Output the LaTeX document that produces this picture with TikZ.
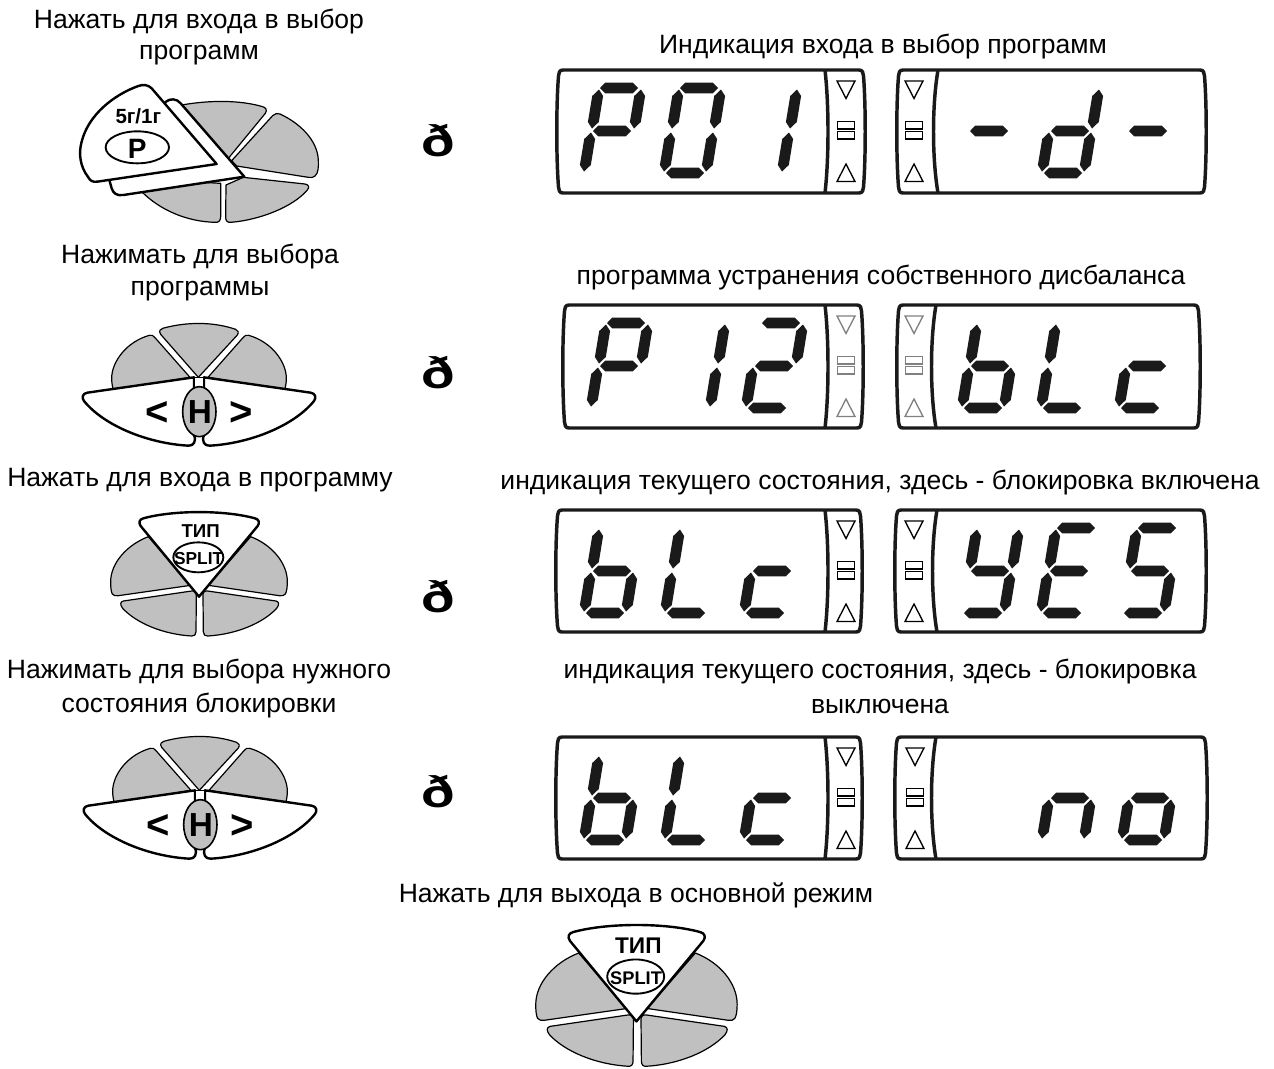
\documentclass[tikz,border=0pt]{standalone}
\usepackage{fontspec}
\usepackage{graphicx}
\setmainfont{Liberation Sans}
\definecolor{keygray}{HTML}{C0C0C0}
\definecolor{lcdblack}{HTML}{1A1A1A}
\newcommand{\fsz}[1]{\fontsize{#1}{#1}\selectfont}
\tikzset{
  caption/.style={inner sep=0pt,anchor=center,font=\fsz{19.9}},
  arrowglyph/.style={inner sep=0pt,anchor=center,font=\fsz{33}\bfseries},
  keygrey/.style={fill=keygray,draw=black,line width=0.9pt,line join=round},
  keywhite/.style={fill=white,draw=black,line width=1.8pt,line join=round},
  frameline/.style={draw=lcdblack,line width=2.6pt,line join=round},
}
\newcommand{\glyphd}{\scalebox{1.25}[1]{ð}}
% seven-segment parts, relative to the centre of the middle bar
\newcommand{\seghz}[2]{\fill[lcdblack,shift={(#1,#2)}] (-19,0)--(-13.8,-5.3)--(13.8,-5.3)--(19,0)--(13.8,5.3)--(-13.8,5.3)--cycle;}
\newcommand{\segvt}[2]{\fill[lcdblack,shift={(#1,#2)}] (3.5,-19.5)--(7.6,-13)--(3.3,13)--(-3.5,19.5)--(-7.6,13)--(-3.3,-13)--cycle;}
\newcommand{\sgA}{\seghz{7}{-43}}
\newcommand{\sgG}{\seghz{0}{0}}
\newcommand{\sgD}{\seghz{-7}{42}}
\newcommand{\sgF}{\segvt{-16.5}{-22}}
\newcommand{\sgB}{\segvt{25.5}{-22}}
\newcommand{\sgE}{\segvt{-24.5}{21}}
\newcommand{\sgC}{\segvt{17.5}{21}}
\newcommand{\dig}[3]{\begin{scope}[shift={(#1,#2)}]#3\end{scope}}
\newcommand{\lcdframe}[4]{%
  \draw[frameline] ({#1+6},#3) -- ({#2-6},#3)
   .. controls ({#2-2},#3) and ({#2-2},{#3+3}) .. ({#2-1.5},{#3+6})
   .. controls ({#2+.8},{#3+35}) and ({#2+.8},{#4-35}) .. ({#2-1.5},{#4-6})
   .. controls ({#2-2},{#4-3}) and ({#2-2},#4) .. ({#2-6},#4)
   -- ({#1+6},#4)
   .. controls ({#1+2},#4) and ({#1+2},{#4-3}) .. ({#1+1.5},{#4-6})
   .. controls ({#1-.8},{#4-35}) and ({#1-.8},{#3+35}) .. ({#1+1.5},{#3+6})
   .. controls ({#1+2},{#3+3}) and ({#1+2},#3) .. cycle;}
\newcommand{\lcddiv}[4]{\draw[frameline] (#1,#2) .. controls ({#1+#4},{#2+35}) and ({#1+#4},{#3-35}) .. (#1,#3);}
\newcommand{\lcdicons}[3]{%
  \begin{scope}[shift={(#1,#2)},draw=#3,line width=1pt,line join=miter]
    \draw (-9,-50)--(9,-50)--(0,-32.5)--cycle;
    \draw[line width=.8pt] (-8.5,-9.5) rectangle (8.5,-2);
    \draw[line width=.8pt] (-8.5,0.5) rectangle (8.5,8);
    \draw (-9,50.5)--(9,50.5)--(0,33)--cycle;
  \end{scope}}
% keypads drawn in 3x zoom units
\newcommand{\keypadH}[3]{%
 \begin{scope}[shift={(#1,#2)},scale=1/3]
  \draw[keygrey] (415,232)--(302,103) .. controls (296,93) and (300,87) .. (308,85) .. controls (380,65) and (460,65) .. (527,88) .. controls (535,92) and (537,97) .. (532,105)--cycle;
  \draw[keygrey] (390,232)--(285,113) .. controls (280,106) and (275,104) .. (268,106) .. controls (200,125) and (155,185) .. (155,235) .. controls (155,248) and (157,258) .. (160,270)--cycle;
  \draw[keygrey] (444,232)--(549,113) .. controls (554,106) and (559,104) .. (566,106) .. controls (634,125) and (679,185) .. (679,235) .. controls (679,248) and (677,258) .. (674,270)--cycle;
  \draw[keywhite] (402,232)--(82,278) .. controls (68,280) and (64,293) .. (72,303) .. controls (130,375) and (260,430) .. (385,437) .. controls (400,438) and (410,425) .. (402,405)--cycle;
  \draw[keywhite] (432,232)--(752,278) .. controls (766,280) and (770,293) .. (762,303) .. controls (704,375) and (574,430) .. (449,437) .. controls (434,438) and (424,425) .. (432,405)--cycle;
  \draw[keywhite,line width=1pt] (402,232) rectangle (432,270);
  \draw[fill=keygray,draw=black,line width=1.2pt] (418,335) ellipse [x radius=50,y radius=75];
  \node[inner sep=0pt,font=\fsz{25}\bfseries] (#3h) at (420,335) {H};
  \node[inner sep=0pt,font=\fsz{30}\bfseries] (#3l) at (292,340) {<};
  \node[inner sep=0pt,font=\fsz{30}\bfseries] (#3r) at (545,340) {>};
 \end{scope}}
\newcommand{\keypadS}[6]{% x y scale fontTIP fontSPLIT name
 \begin{scope}[shift={(#1,#2)},scale=#3/3]
  \draw[keygrey] (272,256)--(145,110) .. controls (80,135) and (32,190) .. (32,245) .. controls (32,262) and (33,275) .. (37,282) .. controls (40,287) and (47,288) .. (55,287)--cycle;
  \draw[keygrey] (325,256)--(452,110) .. controls (517,135) and (562,190) .. (562,245) .. controls (562,262) and (560,275) .. (556,282) .. controls (553,287) and (546,288) .. (538,287)--cycle;
  \draw[keygrey] (70,303)--(275,273) .. controls (285,272) and (290,277) .. (289,287)--(288,395) .. controls (288,404) and (283,409) .. (275,408) .. controls (190,403) and (110,370) .. (68,325) .. controls (60,315) and (60,305) .. (70,303)--cycle;
  \draw[keygrey] (528,303)--(323,273) .. controls (313,272) and (308,277) .. (309,287)--(310,395) .. controls (310,404) and (315,409) .. (323,408) .. controls (408,403) and (488,370) .. (530,325) .. controls (538,315) and (538,305) .. (528,303)--cycle;
  \draw[keywhite] (297,290)--(122,78) .. controls (115,68) and (118,58) .. (130,55) .. controls (220,30) and (375,30) .. (465,55) .. controls (477,58) and (480,68) .. (473,78)--cycle;
  \draw[fill=white,draw=black,line width=1.4pt] (295,172) ellipse [x radius=75,y radius=45];
  \node[inner sep=0pt,font=\fsz{#4}\bfseries] (#6t) at (302,92) {ТИП};
  \node[inner sep=0pt,font=\fsz{#5}\bfseries] (#6s) at (296,175) {SPLIT};
 \end{scope}}
\begin{document}
\begin{tikzpicture}[x=0.75pt,y=-0.75pt]
\path[use as bounding box] (0,0) rectangle (1274,1068);

% captions
\node[caption] (t1a) at (199,22) {Нажать для входа в выбор};
\node[caption] (t1b) at (199,55) {программ};
\node[caption] (t1c) at (883,47) {Индикация входа в выбор программ};
\node[caption] (t2a) at (200,257) {Нажимать для выбора};
\node[caption] (t2b) at (200,291) {программы};
\node[caption] (t2c) at (881,278) {программа устранения собственного дисбаланса};
\node[caption] (t3a) at (200,480) {Нажать для входа в программу};
\node[caption] (t3c) at (880,483) {индикация текущего состояния, здесь - блокировка включена};
\node[caption] (t4a) at (199,672) {Нажимать для выбора нужного};
\node[caption] (t4b) at (199,706) {состояния блокировки};
\node[caption] (t4c) at (880,672) {индикация текущего состояния, здесь - блокировка};
\node[caption] (t4d) at (880,706) {выключена};
\node[caption] (t5a) at (636,895) {Нажать для выхода в основной режим};

% arrows glyph
\node[arrowglyph] (g1) at (438,141) {\glyphd};
\node[arrowglyph] (g2) at (438,373) {\glyphd};
\node[arrowglyph] (g3) at (438,597) {\glyphd};
\node[arrowglyph] (g4) at (438,792) {\glyphd};

% P keypad
\begin{scope}[shift={(60,70)},scale=1/3]
  \draw[keygrey] (505,265)--(616,130) .. controls (622,120) and (618,113) .. (608,110) .. controls (540,90) and (450,90) .. (365,105)--(300,200)--cycle;
  \draw[keygrey] (515,272)--(638,137) .. controls (645,130) and (652,129) .. (660,132) .. controls (720,160) and (772,210) .. (775,270) .. controls (776,290) and (775,310) .. (765,318) .. controls (760,323) and (755,323) .. (745,322)--(530,288)--cycle;
  \draw[keygrey] (498,345)--(550,322)--(735,342) .. controls (747,344) and (749,352) .. (742,360) .. controls (700,410) and (600,450) .. (512,457) .. controls (502,458) and (497,452) .. (497,442)--cycle;
  \draw[keygrey] (482,340)--(482,440) .. controls (482,452) and (476,458) .. (466,457) .. controls (380,455) and (300,420) .. (245,365)--(300,330)--cycle;
  \draw[keywhite] (318,95) .. controls (330,85) and (350,85) .. (362,100)--(553,320)--(190,375) .. controls (170,378) and (160,370) .. (155,355)--(148,330)--cycle;
  \draw[keywhite] (235,48) .. controls (250,42) and (265,45) .. (275,55)--(470,282)--(112,335) .. controls (98,337) and (90,332) .. (85,322) .. controls (60,290) and (55,250) .. (65,215) .. controls (85,135) and (160,75) .. (235,48)--cycle;
  \draw[fill=white,draw=black,line width=1.4pt] (232,232) ellipse [x radius=95,y radius=48];
  \node[inner sep=0pt,font=\fsz{15.4}\bfseries] (kp5) at (235,140) {5г/1г};
  \node[inner sep=0pt,font=\fsz{21}\bfseries] (kpP) at (232,237) {P};
\end{scope}

\keypadH{60}{300}{kh1}
\keypadH{61}{713}{kh2}
\keypadS{100}{500}{1}{14}{13}{ks1}
\keypadS{523.6}{911.2}{1.14}{17}{13.7}{ks2}

% Row 1 displays
\lcdframe{557}{865}{70}{193}\lcddiv{825}{70}{193}{4}\lcdicons{846}{131}{black}
\lcdframe{897}{1206}{70}{193}\lcddiv{938}{70}{193}{-6}\lcdicons{914}{131}{black}
\dig{612}{131}{\sgA\sgB\sgF\sgG\sgE}
\dig{692}{131}{\sgA\sgB\sgC\sgD\sgE\sgF}
\dig{768}{131}{\sgB\sgC}
\dig{989}{131}{\sgG}
\dig{1070}{131}{\sgB\sgC\sgG\sgE\sgD}
\dig{1148}{131}{\sgG}

% Row 2 displays
\lcdframe{563}{863}{305}{428}\lcddiv{825}{305}{428}{4}\lcdicons{846}{366}{gray}
\lcdframe{897}{1200}{305}{428}\lcddiv{936}{305}{428}{-6}\lcdicons{914}{366}{gray}
\dig{619}{366}{\sgA\sgB\sgF\sgG\sgE}
\dig{696}{366}{\sgB\sgC}
\dig{774}{366}{\sgA\sgB\sgG\sgE\sgD}
\dig{990}{366}{\sgF\sgE\sgG\sgC\sgD}
\dig{1069}{366}{\sgF\sgE\sgD}
\dig{1147}{366}{\sgG\sgE\sgD}

% Row 3 displays
\lcdframe{556}{862}{510}{632}\lcddiv{825}{510}{632}{4}\lcdicons{846}{571}{black}
\lcdframe{895}{1206}{510}{632}\lcddiv{937}{510}{632}{-6}\lcdicons{914}{571}{black}
\dig{612}{571}{\sgF\sgE\sgG\sgC\sgD}
\dig{693}{571}{\sgF\sgE\sgD}
\dig{772}{571}{\sgG\sgE\sgD}
\dig{990}{571}{\sgF\sgB\sgG\sgC\sgD}
\dig{1069}{571}{\sgA\sgF\sgG\sgE\sgD}
\dig{1150}{571}{\sgA\sgF\sgG\sgC\sgD}

% Row 4 displays
\lcdframe{556}{862}{737}{859}\lcddiv{825}{737}{859}{4}\lcdicons{846}{798}{black}
\lcdframe{895}{1207}{737}{859}\lcddiv{936}{737}{859}{-6}\lcdicons{915}{798}{black}
\dig{612}{798}{\sgF\sgE\sgG\sgC\sgD}
\dig{693}{798}{\sgF\sgE\sgD}
\dig{772}{798}{\sgG\sgE\sgD}
\dig{1070}{798}{\sgG\sgE\sgC}
\dig{1150}{798}{\sgG\sgE\sgC\sgD}
\end{tikzpicture}
\end{document}
